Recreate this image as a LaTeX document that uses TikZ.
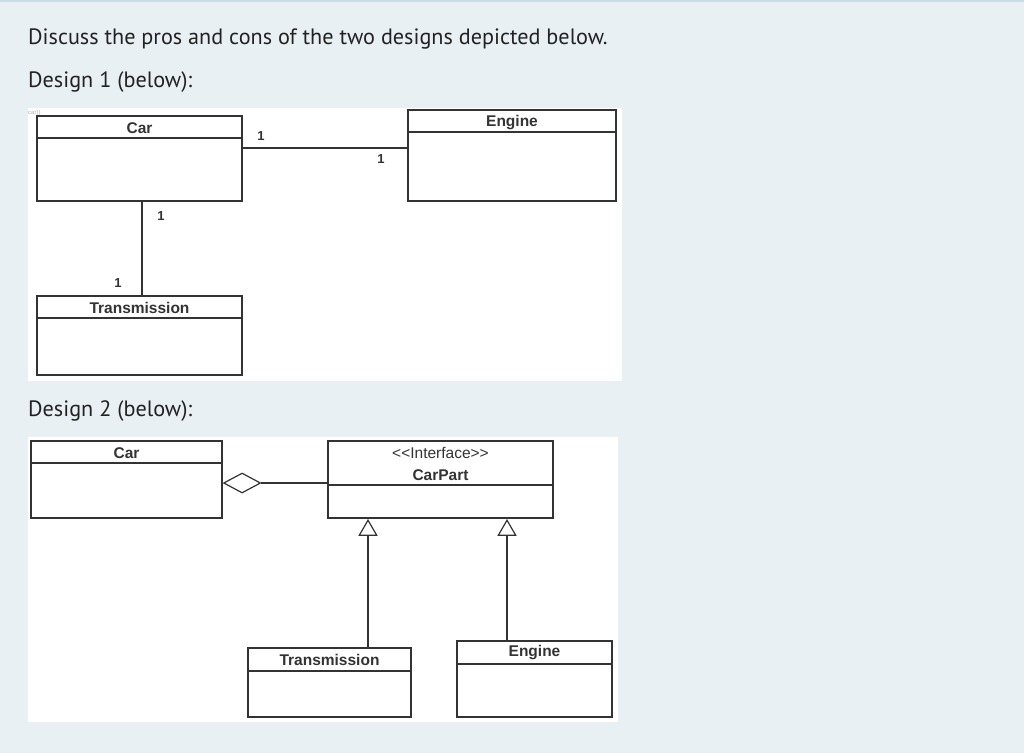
\documentclass[tikz,border=0pt]{standalone}
\usepackage{fontspec}
\setmainfont{PT Sans}
\newfontfamily\umlfont{Liberation Sans}
\usetikzlibrary{shapes.geometric}
\definecolor{pagebg}{HTML}{E9F0F4}
\definecolor{topline}{HTML}{C8DCEA}
\definecolor{umlline}{HTML}{333333}
\definecolor{headtext}{HTML}{222222}
\tikzset{
  umlbox/.style={draw=umlline, line width=1.4pt, fill=white},
  umldiv/.style={draw=umlline, line width=1.3pt},
  conn/.style={draw=umlline, line width=1.2pt},
  cname/.style={font=\umlfont\bfseries\fontsize{15.5}{16}\selectfont, text=umlline, inner sep=0pt},
  stereo/.style={font=\umlfont\fontsize{15.5}{16}\selectfont, text=umlline, inner sep=0pt},
  mult/.style={font=\umlfont\bfseries\fontsize{13}{14}\selectfont, text=umlline, inner sep=0pt},
  heading/.style={font=\fontsize{22.2}{25}\selectfont, text=headtext, anchor=west, inner sep=0pt},
  gen/.style={draw=umlline, line width=1.2pt, fill=white, isosceles triangle, isosceles triangle apex angle=60, shape border rotate=90, minimum height=15pt, minimum width=17pt, inner sep=0pt},
  agg/.style={draw=umlline, line width=1.2pt, fill=white, diamond, minimum width=37pt, minimum height=20pt, inner sep=0pt, aspect=2}
}
\begin{document}
\begin{tikzpicture}[x=1pt,y=-1pt]
\useasboundingbox (0,0) rectangle (1024,753);
\fill[pagebg] (0,0) rectangle (1024,753);
\fill[topline] (0,0) rectangle (1024,2);
% headings
\node[heading] (q) at (28,39) {Discuss the pros and cons of the two designs depicted below.};
\node[heading] (d1) at (28,82) {Design 1 (below):};
\node[heading] (d2) at (28,411) {Design 2 (below):};
% panels
\fill[white] (28,108) rectangle (622,381);
\fill[white] (28,437) rectangle (618,722);
\node[font=\umlfont\fontsize{6}{6}\selectfont, text=gray!60, anchor=north west, inner sep=0pt] (artifact) at (28,110) {car))};
% ===== Design 1 =====
% Car
\draw[umlbox] (37,116) rectangle (242,201);
\draw[umldiv] (37,138) -- (242,138);
\node[cname] (car1) at (139.5,128) {Car};
\coordinate (car1r) at (242,148);
\coordinate (car1b) at (142,201);
% Engine
\draw[umlbox] (408,110) rectangle (616,201);
\draw[umldiv] (408,132) -- (616,132);
\node[cname] (eng1) at (512,123) {Engine};
\coordinate (eng1l) at (408,148);
% Transmission
\draw[umlbox] (37,296) rectangle (242,375);
\draw[umldiv] (37,318) -- (242,318);
\node[cname] (tr1) at (139.5,308) {Transmission};
\coordinate (tr1t) at (142,296);
% connectors
\draw[conn] (car1r) -- (eng1l);
\draw[conn] (car1b) -- (tr1t);
\node[mult] (m1) at (261,136) {1};
\node[mult] (m2) at (381,159) {1};
\node[mult] (m3) at (161,216) {1};
\node[mult] (m4) at (118,283) {1};
% ===== Design 2 =====
% Car
\draw[umlbox] (31,441) rectangle (222,518);
\draw[umldiv] (31,463) -- (222,463);
\node[cname] (car2) at (126.5,453) {Car};
% CarPart
\draw[umlbox] (328,441) rectangle (553,518);
\draw[umldiv] (328,485) -- (553,485);
\node[stereo] (st) at (440.5,453) {<<Interface>>};
\node[cname] (cp) at (440.5,475) {CarPart};
% Transmission
\draw[umlbox] (248,648) rectangle (411,717);
\draw[umldiv] (248,671) -- (411,671);
\node[cname] (tr2) at (329.5,660) {Transmission};
% Engine
\draw[umlbox] (457,641) rectangle (612,717);
\draw[umldiv] (457,664) -- (612,664);
\node[cname] (eng2) at (534.5,653) {Engine};
% aggregation
\node[agg, anchor=west] (dia) at (223,483) {};
\coordinate (cpl) at (328,483);
\draw[conn] (dia.east) -- (cpl);
% generalizations
\node[gen, anchor=apex] (g1) at (368,519) {};
\node[gen, anchor=apex] (g2) at (507,519) {};
\coordinate (tr2t) at (368,648);
\coordinate (eng2t) at (507,641);
\draw[conn] (g1.south) -- (tr2t);
\draw[conn] (g2.south) -- (eng2t);
\end{tikzpicture}
\end{document}
